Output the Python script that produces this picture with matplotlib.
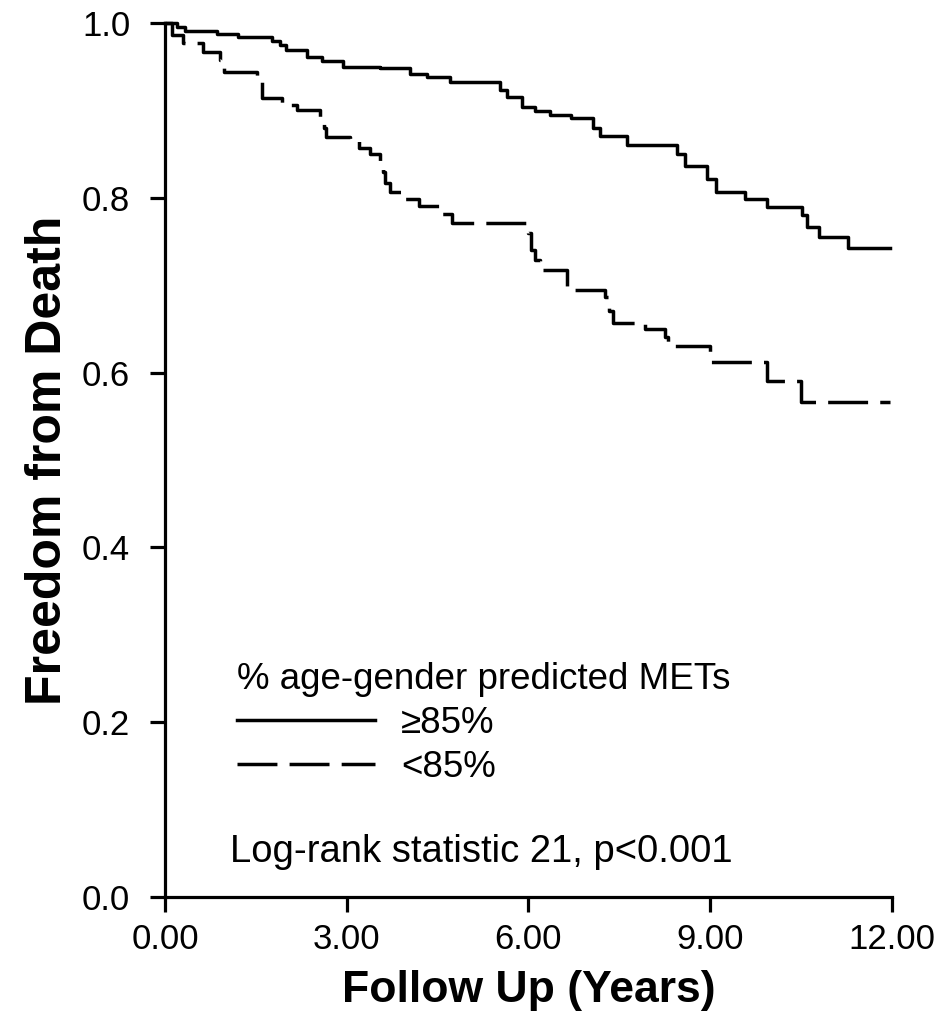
import numpy as np
import matplotlib.pyplot as plt
from matplotlib.ticker import FormatStrFormatter

plt.rcParams['font.family'] = ['Liberation Sans', 'DejaVu Sans']

# Kaplan-Meier step data (time in years, survival after event)
high_t = [0.0, 0.20, 0.33, 0.86, 1.20, 1.77, 1.90, 2.00, 2.35, 2.60, 2.94, 3.55,
          4.04, 4.32, 4.70, 5.53, 5.65, 5.89, 6.11, 6.35, 6.71, 7.06, 7.18, 7.62,
          8.45, 8.58, 8.94, 9.10, 9.57, 9.93, 10.51, 10.60, 10.80, 11.27, 11.97]
high_s = [1.000, 0.996, 0.991, 0.987, 0.984, 0.979, 0.975, 0.969, 0.961, 0.957, 0.950, 0.948,
          0.942, 0.938, 0.932, 0.923, 0.915, 0.904, 0.899, 0.895, 0.891, 0.880, 0.871, 0.860,
          0.850, 0.836, 0.822, 0.807, 0.799, 0.790, 0.780, 0.767, 0.755, 0.743, 0.743]

low_t = [0.0, 0.12, 0.30, 0.63, 0.91, 0.98, 1.52, 1.60, 1.93, 2.18, 2.56, 2.62, 2.66,
         3.05, 3.20, 3.38, 3.55, 3.60, 3.63, 3.71, 3.97, 4.20, 4.56, 4.73, 5.99,
         6.05, 6.10, 6.19, 6.63, 7.26, 7.33, 7.39, 7.92, 8.25, 8.30, 8.99, 9.93,
         10.50, 11.96]
low_s = [1.000, 0.986, 0.977, 0.967, 0.958, 0.944, 0.935, 0.914, 0.906, 0.900, 0.891, 0.880, 0.870,
         0.865, 0.857, 0.850, 0.840, 0.830, 0.817, 0.807, 0.799, 0.791, 0.782, 0.771, 0.760,
         0.740, 0.729, 0.717, 0.695, 0.686, 0.670, 0.657, 0.650, 0.641, 0.630, 0.612, 0.590,
         0.566, 0.566]

x_ticks = [0, 3, 6, 9, 12]
y_ticks = [0.0, 0.2, 0.4, 0.6, 0.8, 1.0]

fig = plt.figure(figsize=(9.41, 10.23), dpi=100)
ax = fig.add_axes([0.1753, 0.1232, 0.7726, 0.8543])

lw = 2.5
ax.step(high_t, high_s, where='post', color='black', lw=lw,
        label='\u226585%', clip_on=False)
ax.step(low_t, low_s, where='post', color='black', lw=lw,
        linestyle=(0, (11.5, 3.5)), label='<85%', clip_on=False)

ax.set_xlim(0, 12)
ax.set_ylim(0, 1)
ax.set_xticks(x_ticks)
ax.set_yticks(y_ticks)
ax.xaxis.set_major_formatter(FormatStrFormatter('%.2f'))
ax.yaxis.set_major_formatter(FormatStrFormatter('%.1f'))

for side in ['top', 'right']:
    ax.spines[side].set_visible(False)
for side in ['left', 'bottom']:
    ax.spines[side].set_linewidth(2.3)
ax.tick_params(direction='out', length=11, width=2.3, labelsize=25, pad=8)
ax.tick_params(axis='y', pad=14)

ax.set_xlabel('Follow Up (Years)', fontsize=32, fontweight='bold', labelpad=10)
ax.set_ylabel('Freedom from Death', fontsize=36, fontweight='bold', labelpad=8)

leg = ax.legend(title='% age-gender predicted METs', loc='upper left',
                bbox_to_anchor=(0.074, 0.290), frameon=False, fontsize=26.5,
                title_fontsize=26.5, handlelength=3.75, handletextpad=0.7,
                labelspacing=0.25, borderpad=0, alignment='left')

ax.text(0.089, 0.051, 'Log-rank statistic 21, p<0.001', transform=ax.transAxes,
        fontsize=27.5, va='center', ha='left')

fig.savefig('out.png', dpi=100)
